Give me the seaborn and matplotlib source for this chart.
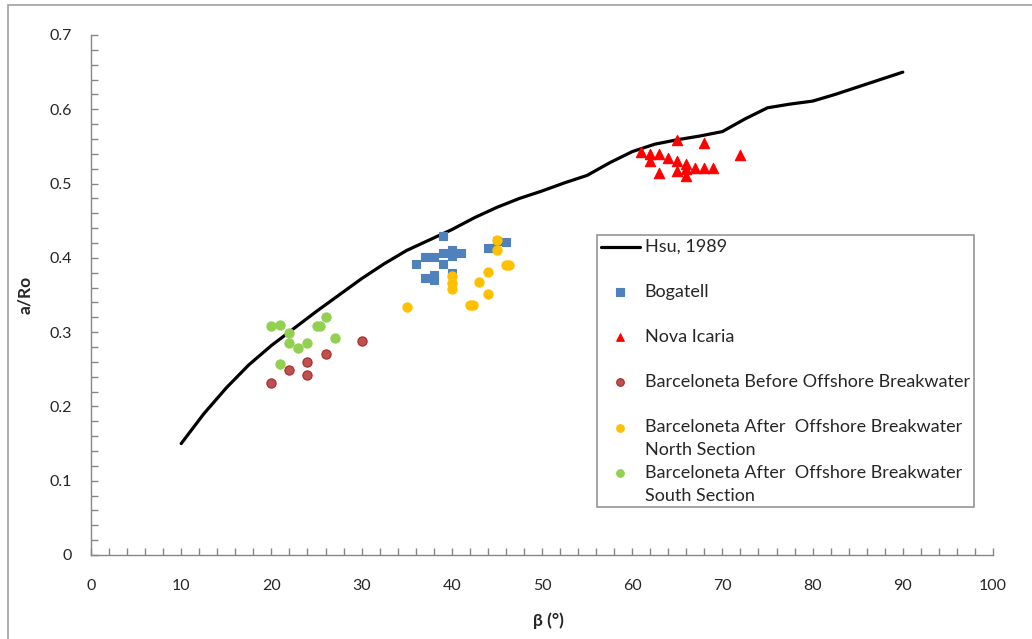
import matplotlib
matplotlib.use("Agg")
import matplotlib.pyplot as plt
import seaborn as sns
from matplotlib.legend_handler import HandlerLine2D, HandlerPathCollection
from matplotlib.transforms import Affine2D
from matplotlib.patches import Rectangle
from matplotlib.ticker import MultipleLocator

# ---------------- data ----------------
hsu_beta = [10, 12.5, 15, 17.5, 20, 22.5, 25, 27.5, 30, 32.5, 35, 37.5, 40, 42.5,
            45, 47.5, 50, 52.5, 55, 57.5, 60, 62.5, 65, 67.5, 70, 72.5, 75, 77.5,
            80, 82.5, 85, 87.5, 90]
hsu_aro = [0.150, 0.190, 0.225, 0.256, 0.282, 0.305, 0.328, 0.350, 0.372, 0.392,
           0.410, 0.424, 0.438, 0.454, 0.468, 0.480, 0.490, 0.501, 0.511, 0.528,
           0.543, 0.553, 0.559, 0.564, 0.570, 0.587, 0.602, 0.607, 0.611, 0.620,
           0.630, 0.640, 0.650]

bog_beta = [36, 37, 37, 38, 38, 38, 39, 39, 39, 40, 40, 40, 41, 44, 44.6, 45, 46]
bog_aro = [0.392, 0.401, 0.373, 0.401, 0.377, 0.370, 0.429, 0.406, 0.392, 0.410,
           0.403, 0.379, 0.407, 0.413, 0.413, 0.423, 0.421]

nov_beta = [61, 62, 62, 63, 63, 64, 65, 65, 65, 66, 66, 66, 67, 68, 68, 69, 72]
nov_aro = [0.542, 0.540, 0.530, 0.540, 0.514, 0.535, 0.559, 0.530, 0.517, 0.526,
           0.520, 0.510, 0.521, 0.521, 0.554, 0.521, 0.538]

bef_beta = [20, 22, 24, 24, 26, 30]
bef_aro = [0.231, 0.249, 0.260, 0.242, 0.271, 0.288]

nor_beta = [35, 40, 40, 40, 42, 42.3, 43, 44, 44, 45, 45, 46, 46.3]
nor_aro = [0.334, 0.375, 0.366, 0.358, 0.337, 0.337, 0.367, 0.381, 0.351, 0.424,
           0.411, 0.390, 0.390]

sou_beta = [20, 21, 21, 22, 22, 23, 24, 25, 25.4, 26, 27]
sou_aro = [0.308, 0.310, 0.257, 0.299, 0.286, 0.279, 0.286, 0.308, 0.308, 0.321, 0.292]

labels = ["Hsu, 1989", "Bogatell", "Nova Icaria",
          "Barceloneta Before Offshore Breakwater",
          "Barceloneta After  Offshore Breakwater\nNorth Section",
          "Barceloneta After  Offshore Breakwater\nSouth Section"]

x_ticks = [0, 10, 20, 30, 40, 50, 60, 70, 80, 90, 100]
y_ticks = [0, 0.1, 0.2, 0.3, 0.4, 0.5, 0.6, 0.7]
y_ticklabels = ["0", "0.1", "0.2", "0.3", "0.4", "0.5", "0.6", "0.7"]

# ---------------- style ----------------
sns.set_theme(style="white")
plt.rcParams['font.family'] = ['Lato', 'DejaVu Sans']
TXT = '#262626'
AXC = '#868686'

fig = plt.figure(figsize=(10.32, 6.39), dpi=100)
ax = fig.add_axes([91 / 1032, 1 - 555 / 639, (993 - 91) / 1032, (555 - 35) / 639])


def pad_label(s):
    return s if "\n" in s else s + "\n"


sns.lineplot(x=hsu_beta, y=hsu_aro, color='black', lw=2.3, sort=False,
             ax=ax, label=pad_label(labels[0]))

series = [
    (bog_beta, bog_aro, 's', 40, '#4F81BD', '#4F81BD', labels[1]),
    (nov_beta, nov_aro, '^', 55, '#FF0000', '#FF0000', labels[2]),
    (bef_beta, bef_aro, 'o', 44, '#C0504D', '#A52A2A', labels[3]),
    (nor_beta, nor_aro, 'o', 44, '#FFC000', '#FFC000', labels[4]),
    (sou_beta, sou_aro, 'o', 44, '#92D050', '#92D050', labels[5]),
]
for bx, by, mk, sz, fc, ec, lab in series:
    sns.scatterplot(x=bx, y=by, marker=mk, s=sz, color=fc, edgecolor=ec,
                    linewidth=0.8, ax=ax, label=pad_label(lab), zorder=3)

ax.set_xlim(0, 100)
ax.set_ylim(0, 0.7)
ax.set_xticks(x_ticks)
ax.set_yticks(y_ticks)
ax.set_yticklabels(y_ticklabels)
ax.xaxis.set_minor_locator(MultipleLocator(2))
ax.yaxis.set_minor_locator(MultipleLocator(0.02))
ax.tick_params(which='both', direction='in', length=5, width=1, color=AXC,
               labelcolor=TXT, labelsize=11.5, bottom=True, left=True)
ax.tick_params(axis='x', which='major', pad=17)
ax.tick_params(axis='y', which='major', pad=14)
for sp in ['top', 'right']:
    ax.spines[sp].set_visible(False)
for sp in ['left', 'bottom']:
    ax.spines[sp].set_color(AXC)
    ax.spines[sp].set_linewidth(1)

ax.set_xlabel("β (°)", fontsize=12.5, fontweight='bold', color=TXT)
ax.set_ylabel("a/Ro", fontsize=12.5, fontweight='bold', color=TXT)
ax.xaxis.set_label_coords((548 - 91) / 902, (555 - 612) / 520)
ax.yaxis.set_label_coords((33 - 91) / 902, 0.5)

LEG_FS = 13
LINESP = 1.53
SHIFT = 23 * 0.72 / 2  # half a text line, in points


class ShiftLine(HandlerLine2D):
    def create_artists(self, legend, orig_handle, xdescent, ydescent, width,
                       height, fontsize, trans):
        t = Affine2D().translate(0, SHIFT) + trans
        return super().create_artists(legend, orig_handle, xdescent, ydescent,
                                      width, height, fontsize, t)


class ShiftColl(HandlerPathCollection):
    def create_artists(self, legend, orig_handle, xdescent, ydescent, width,
                       height, fontsize, trans):
        t = Affine2D().translate(0, SHIFT) + trans
        return super().create_artists(legend, orig_handle, xdescent, ydescent,
                                      width, height, fontsize, t)


handles, labs = ax.get_legend_handles_labels()
hmap = {}
for h in handles:
    if isinstance(h, matplotlib.lines.Line2D):
        hmap[h] = ShiftLine()
    else:
        hmap[h] = ShiftColl(sizes=[30])
leg = ax.legend(handles, labs, handler_map=hmap, loc='upper left',
                bbox_to_anchor=(597 / 1032, 1 - 235 / 639),
                bbox_transform=fig.transFigure, borderaxespad=0,
                fontsize=LEG_FS, frameon=True, fancybox=False, framealpha=1,
                edgecolor='#8c8c8c', labelspacing=0.35, handlelength=2.2,
                handletextpad=0.25, borderpad=0.2, scatterpoints=1,
                scatteryoffsets=[0.5], labelcolor=TXT)
for t in leg.get_texts():
    t.set_linespacing(LINESP)
leg.get_frame().set_linewidth(1.1)

fig.add_artist(Rectangle((7.5 / 1032, -0.05), 1.1, 1 - 4.5 / 639 + 0.05,
                         transform=fig.transFigure, fill=False,
                         ec='#a0a0a0', lw=1.2, clip_on=False))

fig.savefig("out.png", dpi=100)
